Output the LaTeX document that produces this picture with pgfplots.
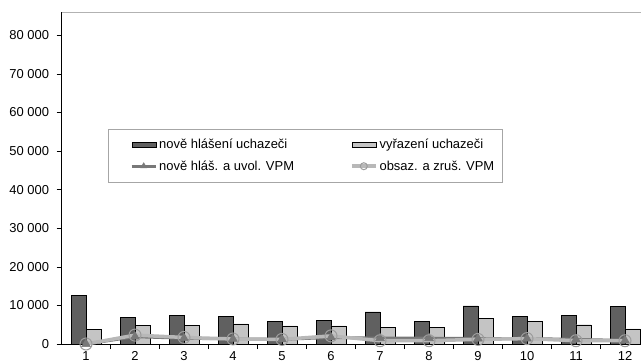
\documentclass[border=0pt]{standalone}
\usepackage{pgfplots}
\usepackage{pgfplotstable}
\pgfplotsset{compat=1.18}
\usepackage{fontspec}
\setmainfont{Liberation Sans}

\definecolor{darkbar}{HTML}{606060}
\definecolor{lightbar}{HTML}{C4C4C4}
\definecolor{darkline}{HTML}{787878}
\definecolor{lightline}{HTML}{B8B8B8}

\pgfplotsset{
    barleg/.style={legend image code/.code={
        \path (-16bp,0bp);
        \draw[##1] (0bp,-2.5bp) rectangle (24bp,2.5bp);}},
    lineleg/.style={legend image code/.code={
        \path (-16bp,0bp);
        \draw[##1, mark=none] plot coordinates {(0bp,0bp) (24bp,0bp)};
        \draw[##1, mark size=3.5bp] plot coordinates {(12bp,0bp)};}},
}

% months 1-12: bars (uchazeci) and lines (VPM)
\pgfplotstableread{
m  nove  vyraz  vpmnove  vpmobs
1  12600 3800   0        0
2  6900  4900   1900     2300
3  7500  4900   1500     1700
4  7100  5200   1300     1300
5  5900  4700   1200     1200
6  6100  4700   1700     2100
7  8300  4400   1500     850
8  5800  4300   1500     850
9  9900  6600   1400     1200
10 7200  5800   1400     1400
11 7400  5000   1200     850
12 9700  3900   900      850
}\data

\begin{document}
\begin{tikzpicture}[x=1bp,y=1bp]
\useasboundingbox (0,0) rectangle (641,360);
\fill[white] (0,0) rectangle (641,360);
\clip (0,0) rectangle (641,360);
\begin{axis}[
    at={(61.5bp,16bp)}, anchor=south west,
    scale only axis, width=588bp, height=332bp,
    xmin=0.5, xmax=12.5, ymin=0, ymax=86000,
    clip=false,
    axis x line*=bottom, axis y line*=left,
    axis line style={black, -},
    xtick={1,...,12},
    minor xtick={1.5,2.5,...,11.5},
    major x tick style={draw=none},
    ytick={0,10000,...,80000},
    tick align=outside,
    major tick length=5bp, minor tick length=5bp,
    tick style={black, thin},
    scaled y ticks=false,
    /pgf/number format/assume math mode=true,
    yticklabel style={/pgf/number format/1000 sep={\ }, xshift=-4bp},
    xticklabel style={yshift=1bp},
    tick label style={font=\fontsize{13}{15}\selectfont},
    legend columns=2,
    legend style={
        at={(0.0791,0.6476)}, anchor=north west,
        draw=gray!70, fill=white,
        font=\fontsize{13}{15}\selectfont,
        inner xsep=6bp, inner ysep=8bp,
        row sep=6.5bp,
        /tikz/every even column/.append style={column sep=38bp},
        cells={anchor=west},
    },
]
\draw[gray!60, line width=1pt] (rel axis cs:0,1) -- (rel axis cs:1.02,1);

\addplot[ybar, bar width=15bp, bar shift=-7.5bp, fill=darkbar, draw=black, barleg]
    table[x=m, y=nove] {\data};
\addlegendentry{nově hlášení uchazeči}

\addplot[ybar, bar width=15bp, bar shift=7.5bp, fill=lightbar, draw=black, barleg]
    table[x=m, y=vyraz] {\data};
\addlegendentry{vyřazení uchazeči}

\addplot[darkline, line width=3bp, mark=triangle*, mark size=5bp,
    mark options={fill=darkline, draw=darkline, line width=0.5bp}, lineleg]
    table[x=m, y=vpmnove] {\data};
\addlegendentry{nově hláš. a uvol. VPM}

\addplot[lightline, line width=3.5bp, mark=o, mark size=6bp,
    mark options={draw=lightline!85!black, line width=1bp, fill=none}, lineleg]
    table[x=m, y=vpmobs] {\data};
\addlegendentry{obsaz. a zruš. VPM}
\end{axis}
\end{tikzpicture}
\end{document}
